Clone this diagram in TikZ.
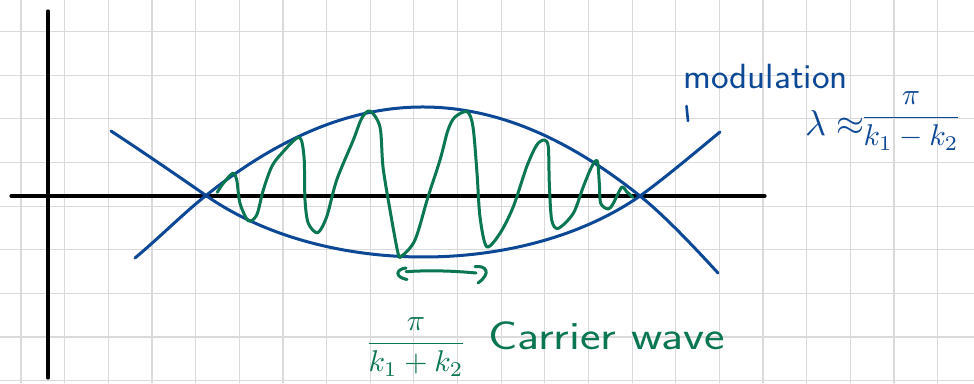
\documentclass[tikz,border=0pt]{standalone}
\usepackage{graphicx}
\definecolor{inkblue}{RGB}{12,72,150}
\definecolor{inkgreen}{RGB}{10,118,82}
\definecolor{gridgray}{RGB}{218,218,218}
\begin{document}
\begin{tikzpicture}[x=1pt,y=-1pt, line cap=round, line join=round,
 gridline/.style={draw=gridgray, line width=1.2pt},
 axisline/.style={draw=black, line width=3.2pt},
 env/.style={draw=inkblue, line width=3pt},
 wave/.style={draw=inkgreen, line width=3pt},
 bluetext/.style={text=inkblue, inner sep=0pt},
 greentext/.style={text=inkgreen, inner sep=0pt}]
\fill[white] (0,0) rectangle (974,383);
\useasboundingbox (0,0) rectangle (974,383);
\foreach \k in {0,...,21} \draw[gridline] ({21+43.65*\k},0) -- ({21+43.65*\k},383);
\foreach \k in {0,...,8} \draw[gridline] (0,{31.5+43.65*\k}) -- (974,{31.5+43.65*\k});
% axes
\coordinate (ytop) at (48,11);
\coordinate (ybot) at (48,378);
\coordinate (xleft) at (11,196);
\coordinate (xright) at (765,196);
\draw[axisline] (ytop) -- (ybot);
\draw[axisline] (xleft) -- (xright);
% crossing points
\coordinate (cl) at (206,195.5);
\coordinate (cr) at (640,196);
% dome envelope
\draw[env] (135,258) .. controls (160,237) and (185,212) .. (cl)
  .. controls (354,77.4) and (492,77.4) .. (cr)
  .. controls (665,216) and (695,248) .. (718,273);
% bowl envelope
\draw[env] (111,131) .. controls (140,150) and (180,177.3) .. (cl)
  .. controls (323,277.4) and (523,277.4) .. (cr)
  .. controls (665,178) and (698,150) .. (720,132);
% carrier wave
\draw[wave] plot[smooth, tension=0.5] coordinates {(217.3,192.3) (223.3,183.3) (232.7,173.3) (236.7,180) (240,203.3) (248.3,220.7) (256.7,215) (263.3,190) (271.7,166.7) (281.7,153.3) (299,137.3) (304,156.7) (305,200) (308.3,223.3) (317.7,232.7) (326.7,216.7) (336.7,180) (353.3,140) (361.7,118.3) (370,111) (380,127) (383,167) (390,210) (398,253) (401.7,256) (415,240) (428,197) (440,160) (448,130) (455,117) (467.3,111.7) (473,127) (477,173) (480,217) (486.7,246.7) (500,233.3) (513.3,206.7) (526.7,166.7) (536.7,145) (544.3,140) (548.3,146.7) (549.3,183.3) (551.7,220) (558.3,228.3) (573.3,213.3) (583.3,186.7) (591.7,166.7) (597.3,161) (599.3,183.3) (600.7,203.3) (608.3,209) (613.3,203.3) (621.7,187.3) (626.7,191.7) (632.7,197.3)};
% labels
\node[bluetext, anchor=base west, font=\sffamily\fontsize{35}{35}\selectfont] (mod) at (683,88) {\scalebox{1.07}[1]{modulation}};
\coordinate (ticktop) at (686.5,106);
\coordinate (tickbot) at (688,121);
\draw[env, line width=2.6pt] (ticktop) -- (tickbot);
\node[bluetext, anchor=base west] (lam) at (805,135) {\scalebox{3.6}{$\lambda\approx$}};
\node[bluetext, anchor=base] (fracm) at (911,125) {\scalebox{3}{$\displaystyle\frac{\pi}{k_1-k_2}$}};
\node[greentext, anchor=base] (fracc) at (416,351) {\scalebox{3}{$\displaystyle\frac{\pi}{k_1+k_2}$}};
\node[greentext, anchor=base west, font=\sffamily\fontsize{40}{40}\selectfont] (carrier) at (488,349) {\scalebox{1.22}[1]{Carrier wave}};
% double arrow
\coordinate (al) at (406,271.7);
\coordinate (ar) at (476,273);
\draw[wave] (406,268) .. controls (396,269) and (394,277) .. (407,279.5);
\draw[wave] (al) .. controls (430,270) and (455,271) .. (ar);
\draw[wave] (475,266.7) .. controls (486,265) and (492,273) .. (478,283);
\end{tikzpicture}
\end{document}
